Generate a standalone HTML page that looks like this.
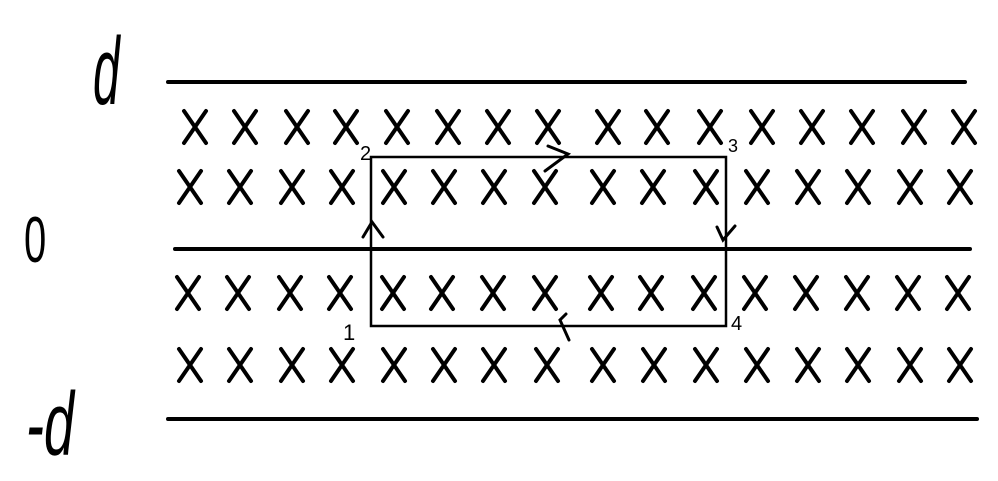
<!DOCTYPE html>
<html><head><meta charset="utf-8"><style>
html,body{margin:0;padding:0;background:#fff;}
svg{display:block;}
text{font-family:"Liberation Sans",sans-serif;fill:#000;}
</style></head><body>
<svg id="fig" width="998" height="481" viewBox="0 0 998 481" xmlns="http://www.w3.org/2000/svg">
<rect width="998" height="481" fill="#fff"/>
<line x1="168" y1="82" x2="965" y2="82" stroke="#000" stroke-width="4" stroke-linecap="round"/>
<line x1="175" y1="249" x2="970" y2="249" stroke="#000" stroke-width="4" stroke-linecap="round"/>
<line x1="168" y1="419" x2="977" y2="419" stroke="#000" stroke-width="4" stroke-linecap="round"/>
<rect x="371" y="157" width="355" height="169" fill="none" stroke="#000" stroke-width="2.5"/>
<g id="marks"></g>
<text transform="translate(93,104) scale(0.8,1.6)" x="0" y="0" font-size="60" font-style="italic">d</text>
<text transform="translate(24,262) scale(0.8,1.3)" x="0" y="0" font-size="50">0</text>
<text transform="translate(26,455) scale(0.9,1.5)" x="0" y="0" font-size="60" font-style="italic">-d</text>
<text x="360" y="160" font-size="20">2</text>
<text x="728" y="152" font-size="18">3</text>
<text x="343" y="340" font-size="22">1</text>
<text x="731" y="330" font-size="20">4</text>
<polyline points="548,146 568,154 545,171" fill="none" stroke="#000" stroke-width="3" stroke-linecap="round"/>
<polyline points="363,237 372,222 383,237" fill="none" stroke="#000" stroke-width="3" stroke-linecap="round"/>
<polyline points="717,227 723,240 735,226" fill="none" stroke="#000" stroke-width="3" stroke-linecap="round"/>
<polyline points="566,314 560,320 569,340" fill="none" stroke="#000" stroke-width="3" stroke-linecap="round"/>
</svg>
<script>
const rowY = [127, 187, 293, 365];
const colX = [
 [195,245,297,346,397,448,498,548,608,657,710,762,812,862,914,964],
 [190,240,292,342,394,444,494,545,603,653,706,757,808,858,910,960],
 [188,238,290,340,393,442,493,545,601,651,704,755,806,857,908,958],
 [190,240,292,342,394,444,494,547,603,654,706,757,808,858,910,960]
];
const g = document.getElementById('marks');
const NS = 'http://www.w3.org/2000/svg';
rowY.forEach((y, r) => {
  colX[r].forEach((x, c) => {
    const p = document.createElementNS(NS, 'path');
    p.setAttribute('d', `M${x-11} ${y-16} L${x+11} ${y+16} M${x+11} ${y-16} L${x-11} ${y+16}`);
    p.setAttribute('stroke', '#000');
    p.setAttribute('stroke-width', '4');
    p.setAttribute('stroke-linecap', 'round');
    p.setAttribute('fill', 'none');
    
    
    g.appendChild(p);
  });
});
</script>
</body></html>
